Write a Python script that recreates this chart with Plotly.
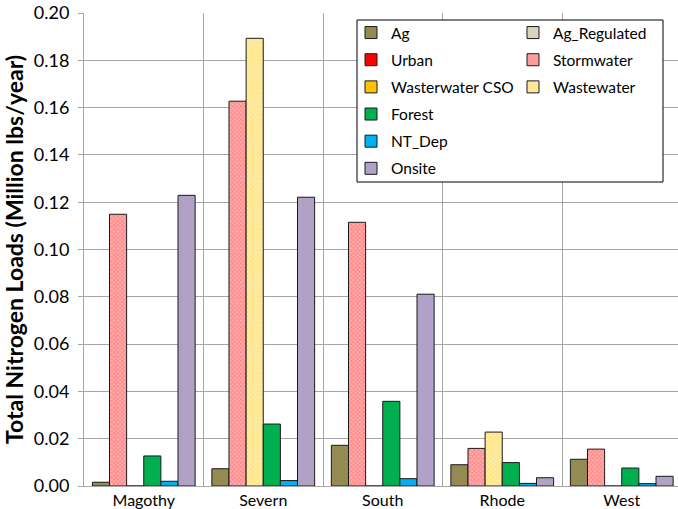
import plotly.graph_objects as go

categories = ["Magothy", "Severn", "South", "Rhode", "West"]

ag          = [0.0016, 0.0073, 0.0172, 0.0090, 0.0113]
ag_reg      = [0, 0, 0, 0, 0]
urban       = [0, 0, 0, 0, 0]
stormwater  = [0.1149, 0.1627, 0.1115, 0.0159, 0.0156]
ww_cso      = [0, 0, 0, 0, 0]
wastewater  = [0.0, 0.1893, 0.0, 0.0228, 0.0]
forest      = [0.0127, 0.0262, 0.0358, 0.0099, 0.0076]
nt_dep      = [0.0020, 0.0023, 0.0031, 0.0011, 0.0010]
onsite      = [0.1229, 0.1221, 0.0811, 0.0035, 0.0041]

y_ticks = [0.00, 0.02, 0.04, 0.06, 0.08, 0.10, 0.12, 0.14, 0.16, 0.18, 0.20]

W, H = 678, 509
L, R, T, B = 84, 0, 13, 23
PW, PH = W - L - R, H - T - B
FONT = "Lato"


def px_x(px):
    return (px - L) / PW


def px_y(py):
    return (H - B - py) / PH


fig = go.Figure()

# (name, values, color, pattern, legend, drawn-slot)
series = [
    ("Ag", ag, "#948A54", None, "legend", "Ag"),
    ("Ag_Regulated", ag_reg, "#E6E2D0", ("x", "#B8B08D"), "legend2", None),
    ("Urban", urban, "#FF0000", None, "legend", None),
    ("Stormwater", stormwater, "#FFB3B3", ("x", "#FF6464"), "legend2", "Stormwater"),
    ("Wasterwater CSO", ww_cso, "#FFC000", None, "legend", None),
    ("Wastewater", wastewater, "#FFF0B8", ("x", "#FFD54F"), "legend2", "Wastewater"),
    ("Forest", forest, "#00B050", None, "legend", "Forest"),
    ("NT_Dep", nt_dep, "#00B0F0", None, "legend", "NT_Dep"),
    ("Onsite", onsite, "#B2A1C7", None, "legend", "Onsite"),
]

for name, vals, color, pat, leg, slot in series:
    marker = dict(color=color, line=dict(color="#1A1A1A", width=1))
    if pat:
        marker["pattern"] = dict(shape=pat[0], fgcolor=pat[1], bgcolor=color,
                                 size=3, solidity=0.6)
    if slot is None:
        yv = [v if v else None for v in vals]
        og = "Ag"
    else:
        yv = vals
        og = slot
    fig.add_trace(go.Bar(
        x=categories, y=yv, name=name, marker=marker,
        offsetgroup=og, legend=leg, legendgroup=name,
    ))

legend_common = dict(
    xanchor="left", yanchor="top",
    bgcolor="rgba(0,0,0,0)", borderwidth=0,
    font=dict(family=FONT, size=15.5, color="#000"),
    traceorder="grouped", tracegroupgap=4, itemwidth=30,
)

fig.update_layout(
    width=W, height=H,
    margin=dict(l=L, r=R, t=T, b=B, pad=0, autoexpand=False),
    paper_bgcolor="white", plot_bgcolor="white",
    font=dict(family=FONT, size=16, color="#000000"),
    barmode="group", bargap=0.14, bargroupgap=0,
    showlegend=True,
    legend=dict(x=px_x(351), y=px_y(16), **legend_common),
    legend2=dict(x=px_x(513), y=px_y(16), **legend_common),
    xaxis=dict(
        type="category", range=[-0.5, -0.5 + PW / 119.5],
        tickson="boundaries", showgrid=True, gridcolor="#A6A6A6", gridwidth=1,
        showline=True, linecolor="#A6A6A6", linewidth=1,
        ticks="", tickfont=dict(size=16), ticklabelstandoff=0, tickangle=0,
        zeroline=False, automargin=False,
    ),
    yaxis=dict(
        range=[0, 0.20], tickvals=y_ticks, tickformat=".2f",
        showgrid=True, gridcolor="#A6A6A6", gridwidth=1,
        showline=True, linecolor="#A6A6A6", linewidth=1,
        ticks="outside", ticklen=5, tickcolor="#A6A6A6",
        tickfont=dict(size=18), ticklabelstandoff=5,
        zeroline=False, automargin=False,
        title=dict(text="<b>Total Nitrogen Loads (Million lbs/year)</b>",
                   font=dict(size=23), standoff=3),
    ),
    shapes=[dict(
        type="rect", xref="paper", yref="paper", layer="above",
        x0=px_x(357), x1=px_x(663), y0=px_y(182), y1=px_y(20),
        line=dict(color="#000000", width=1), fillcolor="white",
    )],
)

fig.write_html("out.html", config={"displayModeBar": False},
               post_script="document.body.style.margin='0';")
